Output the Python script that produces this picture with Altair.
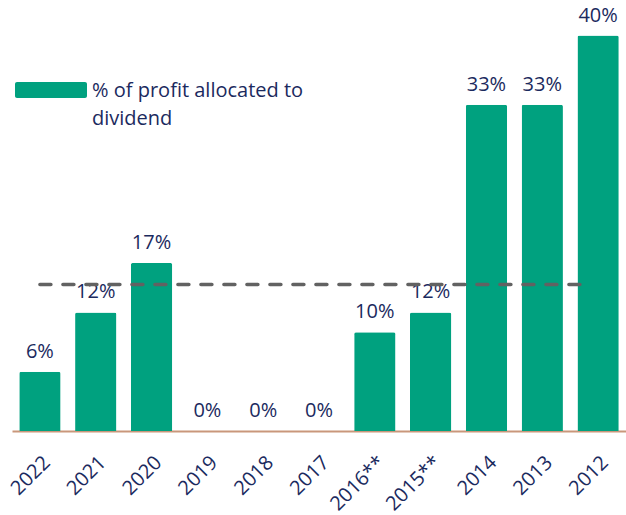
import altair as alt
import pandas as pd

# Share of profit paid out as dividend, per fiscal year
years = ["2022", "2021", "2020", "2019", "2018", "2017", "2016**", "2015**", "2014", "2013", "2012"]
payout = [6, 12, 17, 0, 0, 0, 10, 12, 33, 33, 40]

df = pd.DataFrame({"year": years, "payout": payout})
df["label"] = df["payout"].astype(str) + "%"

GREEN = "#00a17f"
NAVY = "#1b2a5e"
FONT = "Open Sans"

x_scale = alt.Scale(domain=years, paddingInner=0.26, paddingOuter=0.13)
y_scale = alt.Scale(domain=[0, 43.6], nice=False)

x_enc = alt.X(
    "year:N",
    scale=x_scale,
    sort=None,
    axis=alt.Axis(
        title=None,
        labelAngle=-45,
        labelFontSize=20,
        labelColor=NAVY,
        labelFont=FONT,
        labelPadding=21,
        ticks=False,
        domainColor="#c9977b",
        domainWidth=2,
    ),
)

bars = alt.Chart(df).mark_bar(color=GREEN, cornerRadiusTopLeft=2, cornerRadiusTopRight=2).encode(
    x=x_enc,
    y=alt.Y("payout:Q", scale=y_scale, axis=None),
)

labels = alt.Chart(df).mark_text(
    baseline="bottom", dy=-10, fontSize=20, font=FONT, color=NAVY
).encode(
    x=alt.X("year:N", scale=x_scale, sort=None),
    y=alt.Y("payout:Q", scale=y_scale, axis=None),
    text="label:N",
)

# Average payout across all years, drawn across the row of bars
avg = alt.Chart(df).transform_aggregate(
    mean_payout="mean(payout)"
).transform_calculate(
    x_start="'" + years[0] + "'", x_end="'" + years[-1] + "'"
).mark_rule(
    color="#626262", strokeWidth=3.5, strokeDash=[11, 12], strokeCap="round", x2Offset=-10
).encode(
    x=alt.X("x_start:N", scale=x_scale, sort=None),
    x2="x_end:N",
    y=alt.Y("mean_payout:Q", scale=y_scale, axis=None),
)

legend_key = alt.Chart(df.head(1)).mark_rect(color=GREEN, cornerRadius=2).encode(
    x=alt.value(3), x2=alt.value(75), y=alt.value(82), y2=alt.value(98)
)
legend_text = alt.Chart(df.head(1)).mark_text(
    align="left", baseline="alphabetic", fontSize=20, font=FONT, color=NAVY, lineHeight=28
).encode(
    x=alt.value(80), y=alt.value(97),
    text=alt.value(["\u00a0% of profit allocated to", "dividend"]),
)

chart = alt.layer(bars, labels, avg, legend_key, legend_text).properties(
    width=614,
    height=431,
    autosize=alt.AutoSizeParams(type="none"),
    padding={"left": 12, "top": 0, "right": 0, "bottom": 84},
).configure(background="white").configure_view(stroke=None)

chart.save("out.html", embed_options={"renderer": "svg", "actions": False})
